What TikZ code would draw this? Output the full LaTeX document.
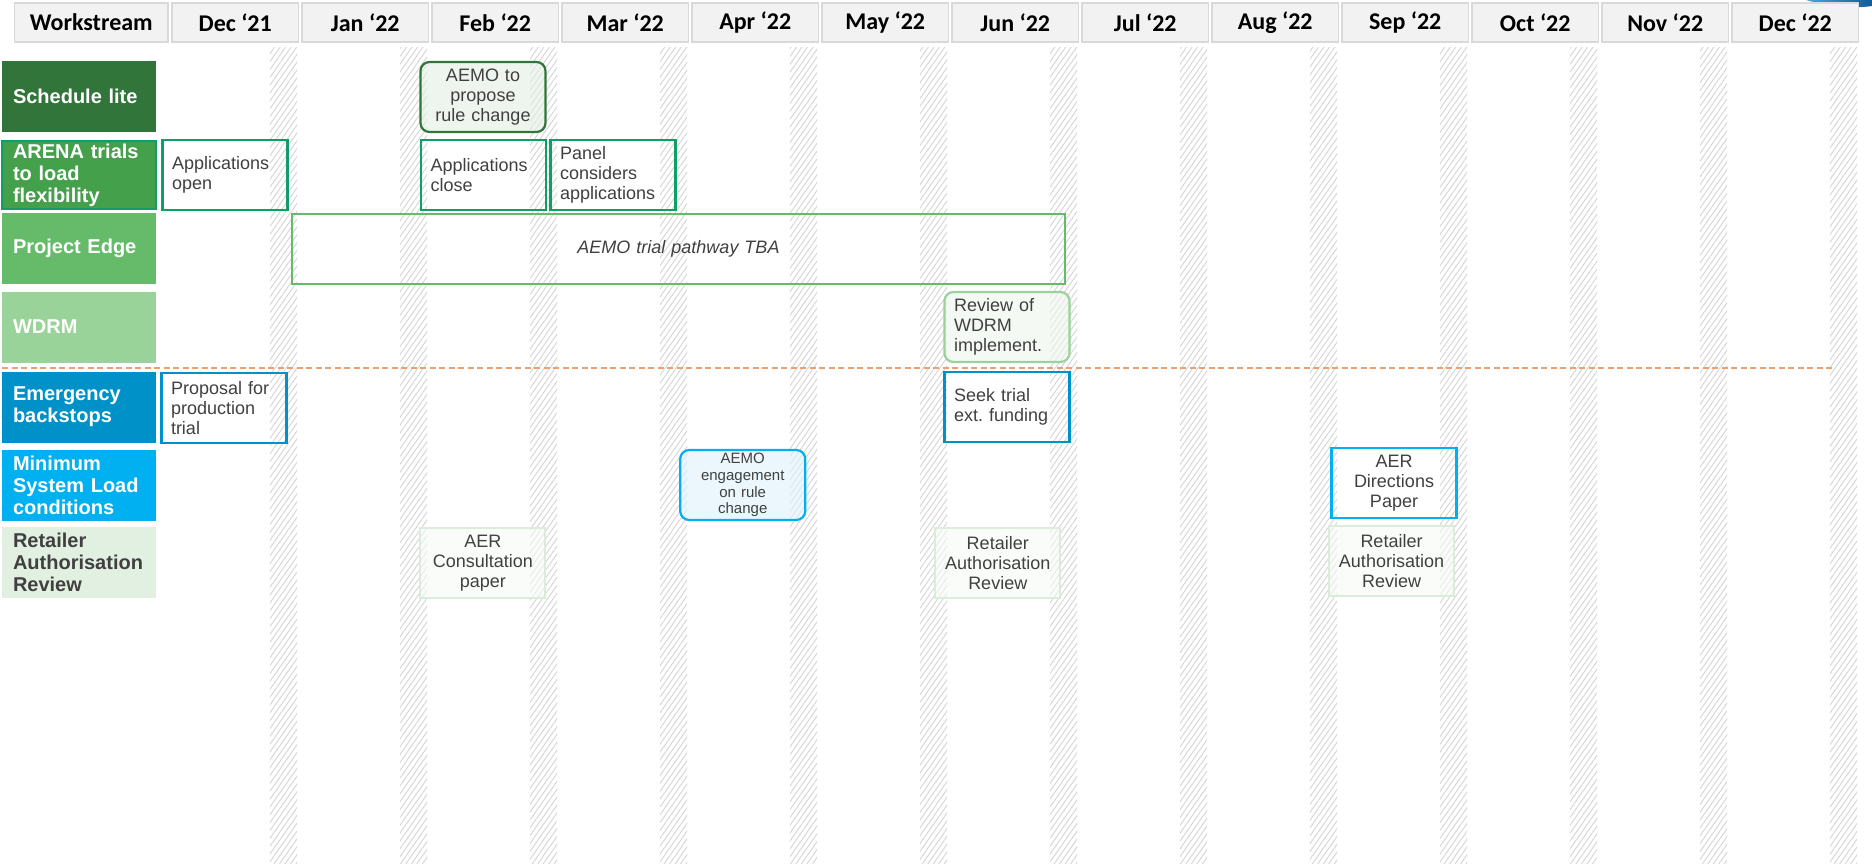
\documentclass[tikz,border=0pt]{standalone}
\usepackage{fontspec}
\setmainfont{Liberation Sans}
\newfontfamily\hdrfont{Carlito}
\usetikzlibrary{patterns.meta}
\frenchspacing

\definecolor{hdrfill}{RGB}{242,242,242}
\definecolor{hdrline}{RGB}{217,217,217}
\definecolor{txtgray}{RGB}{64,64,64}
\definecolor{slgreen}{RGB}{50,117,58}
\definecolor{slfill}{RGB}{228,238,228}
\definecolor{arenagreen}{RGB}{68,160,74}
\definecolor{arenaline}{RGB}{16,158,104}
\definecolor{edgegreen}{RGB}{101,187,105}
\definecolor{wdrmgreen}{RGB}{153,211,153}
\definecolor{wdrmfill}{RGB}{238,246,238}
\definecolor{emgblue}{RGB}{0,145,200}
\definecolor{mslblue}{RGB}{0,176,240}
\definecolor{mslfill}{RGB}{222,243,252}
\definecolor{retfill}{RGB}{226,240,226}
\definecolor{retline}{RGB}{218,236,218}
\definecolor{retbg}{RGB}{246,250,246}
\definecolor{sepcol}{RGB}{235,160,110}
\definecolor{hatchgray}{RGB}{212,212,212}
\definecolor{swlight}{RGB}{70,170,210}
\definecolor{swdark}{RGB}{20,90,150}

\begin{document}
\begin{tikzpicture}[x=1pt, y=-1pt,
  hdr/.style={draw=hdrline, line width=1.5pt, fill=hdrfill, minimum width=126.5pt, minimum height=39pt, inner sep=0pt, font=\hdrfont\bfseries\fontsize{24}{26}\selectfont},
  lbl/.style={minimum height=71pt, text width=132pt, inner xsep=11pt, inner ysep=0pt, align=left, text=white, font=\bfseries\fontsize{20}{22}\selectfont},
  evt/.style={line width=2.2pt, minimum height=70pt, text width=106pt, inner xsep=9.5pt, inner ysep=0pt, align=left, text=txtgray, fill opacity=0.6, text opacity=1, font=\fontsize{18}{20}\selectfont},
  ctr/.style={align=center},
  rnd/.style={rounded corners=9pt},
  hatch/.style={pattern={Lines[angle=55,distance=4.5pt,line width=0.9pt]}, pattern color=hatchgray}]

\fill[white] (0,0) rectangle (1872,863);
\useasboundingbox (0,0) rectangle (1872,863);

\fill[hatch] (270,47) rectangle (297,863);
\fill[hatch] (400,47) rectangle (427,863);
\fill[hatch] (530,47) rectangle (557,863);
\fill[hatch] (660,47) rectangle (687,863);
\fill[hatch] (790,47) rectangle (817,863);
\fill[hatch] (920,47) rectangle (947,863);
\fill[hatch] (1050,47) rectangle (1077,863);
\fill[hatch] (1180,47) rectangle (1207,863);
\fill[hatch] (1310,47) rectangle (1337,863);
\fill[hatch] (1440,47) rectangle (1467,863);
\fill[hatch] (1570,47) rectangle (1597,863);
\fill[hatch] (1700,47) rectangle (1727,863);
\fill[hatch] (1830,47) rectangle (1857,863);

\shade[left color=swlight, right color=swdark] (1806,0) .. controls (1826,6) and (1852,9) .. (1872,6) -- (1872,0) -- cycle;

\node[hdr, minimum width=153.5pt] (wshdr) at (91.25,22.5) {Workstream};
\node[hdr] (dec21) at (235.25,22.5) {Dec ‘21};
\node[hdr] (jan22) at (365.25,22.5) {Jan ‘22};
\node[hdr] (feb22) at (495.25,22.5) {Feb ‘22};
\node[hdr] (mar22) at (625.25,22.5) {Mar ‘22};
\node[hdr] (apr22) at (755.25,22.5) {Apr ‘22};
\node[hdr] (may22) at (885.25,22.5) {May ‘22};
\node[hdr] (jun22) at (1015.25,22.5) {Jun ‘22};
\node[hdr] (jul22) at (1145.25,22.5) {Jul ‘22};
\node[hdr] (aug22) at (1275.25,22.5) {Aug ‘22};
\node[hdr] (sep22) at (1405.25,22.5) {Sep ‘22};
\node[hdr] (oct22) at (1535.25,22.5) {Oct ‘22};
\node[hdr] (nov22) at (1665.25,22.5) {Nov ‘22};
\node[hdr] (dec22) at (1795.25,22.5) {Dec ‘22};

\node[lbl, fill=slgreen] (schedlite) at (79,96.5) {Schedule lite};
\node[lbl, fill=arenagreen, draw=arenaline, line width=2pt, minimum height=68pt] (arena) at (79,175) {ARENA trials\\to load\\flexibility};
\node[lbl, fill=edgegreen] (edge) at (79,248.5) {Project Edge};
\node[lbl, fill=wdrmgreen] (wdrm) at (79,327) {WDRM};
\node[lbl, fill=emgblue] (backstop) at (79,407) {Emergency\\backstops};
\node[lbl, fill=mslblue] (minload) at (79,485) {Minimum\\System Load\\conditions};
\node[lbl, fill=retfill, text=txtgray] (retail) at (79,562.5) {Retailer\\Authorisation\\Review};

\draw[sepcol, line width=2pt, dash pattern=on 6pt off 3.5pt] (2,368) -- (1832,368);

\node[evt, rnd, ctr, draw=slgreen, fill=slfill] (propose) at (483,97) {AEMO to\\propose\\rule change};
\node[evt, draw=arenaline] (appopen) at (225,175) {Applications\\open};
\node[evt, draw=arenaline] (appclose) at (483.5,175) {Applications\\close};
\node[evt, draw=arenaline] (panel) at (613,175) {Panel\\considers\\applications};
\node[evt, ctr, draw=edgegreen, line width=2pt, minimum width=773pt, text width=700pt, font=\itshape\fontsize{18}{20}\selectfont] (pathway) at (678.5,249) {AEMO trial pathway TBA};
\node[evt, rnd, draw=wdrmgreen, fill=wdrmfill] (wdrmrev) at (1007,327) {Review of\\WDRM\\implement.};
\node[evt, draw=emgblue] (prodtrial) at (224,408) {Proposal for\\production\\trial};
\node[evt, draw=emgblue] (seekfund) at (1007,407) {Seek trial\\ext. funding};
\node[evt, rnd, ctr, draw=mslblue, fill=mslfill, font=\fontsize{15}{16.7}\selectfont] (engage) at (742.75,485) {AEMO\\engagement\\on rule\\change};
\node[evt, ctr, draw=mslblue] (aerdir) at (1394,483) {AER\\Directions\\Paper};
\node[evt, ctr, draw=retline, fill=retbg] (aercons) at (482.8,563) {AER\\Consultation\\paper};
\node[evt, ctr, draw=retline, fill=retbg] (rarjun) at (997.75,563) {Retailer\\Authorisation\\Review};
\node[evt, ctr, draw=retline, fill=retbg] (rarsep) at (1391.5,561) {Retailer\\Authorisation\\Review};
\end{tikzpicture}
\end{document}
